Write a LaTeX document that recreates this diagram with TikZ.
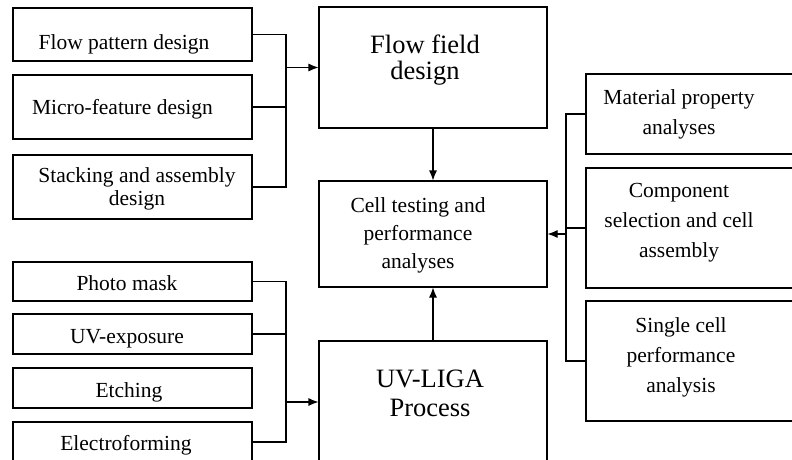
\documentclass[tikz,border=0pt]{standalone}
\usepackage{fontspec}
\setmainfont{Liberation Serif}
\usetikzlibrary{arrows.meta}
\begin{document}
\begin{tikzpicture}[x=1pt,y=-1pt,
  box/.style={draw=black,line width=1.1pt,rectangle,inner sep=0pt},
  txt/.style={anchor=base,align=center,inner sep=0pt,font=\fontsize{21.5}{23}\selectfont},
  txtm/.style={txt,font=\fontsize{21.5}{28}\selectfont},
  txtr/.style={txt,font=\fontsize{21.5}{30}\selectfont},
  big/.style={txt,font=\fontsize{26.5}{25}\selectfont},
  bigb/.style={txt,font=\fontsize{26.5}{29}\selectfont},
  conn/.style={line width=1.1pt},
  arr/.style={conn,-{Latex[length=10pt,width=8pt]}}]
\useasboundingbox (0,0) rectangle (792,460);
% boxes
\node[box,minimum width=239pt,minimum height=53pt] (fp) at (132.5,34.5) {};
\node[box,minimum width=239pt,minimum height=64pt] (mf) at (132.5,107) {};
\node[box,minimum width=239pt,minimum height=64pt] (sa) at (132.5,187) {};
\node[box,minimum width=239pt,minimum height=39pt] (pm) at (132.5,281.5) {};
\node[box,minimum width=239pt,minimum height=40pt] (ue) at (132.5,334) {};
\node[box,minimum width=239pt,minimum height=40pt] (et) at (132.5,388) {};
\node[box,minimum width=239pt,minimum height=40pt] (el) at (132.5,442) {};
\node[box,minimum width=228pt,minimum height=121pt] (ff) at (433,67.5) {};
\node[box,minimum width=228pt,minimum height=106pt] (ct) at (433,234) {};
\node[box,minimum width=228pt,minimum height=122pt] (uv) at (433,402) {};
\node[box,minimum width=210pt,minimum height=80pt] (mp) at (691,114) {};
\node[box,minimum width=210pt,minimum height=120pt] (cs) at (691,228) {};
\node[box,minimum width=210pt,minimum height=120pt] (sc) at (691,361) {};
% texts (anchor = baseline of last line)
\node[txt] (tfp) at (124,49) {Flow pattern design};
\node[txt] (tmf) at (122.5,114) {Micro-feature design};
\node[txt] (tsa) at (137,205) {Stacking and assembly\\design};
\node[txt] (tpm) at (127,290) {Photo mask};
\node[txt] (tue) at (127,343) {UV-exposure};
\node[txt] (tet) at (129,397) {Etching};
\node[txt] (tel) at (126,450) {Electroforming};
\node[big] (tff) at (425,79) {Flow field\\design};
\node[txtm] (tct) at (418,268) {Cell testing and\\performance\\analyses};
\node[bigb] (tuv) at (430,416) {UV-LIGA\\Process};
\node[txtr] (tmp) at (679,134) {Material property\\analyses};
\node[txtr] (tcs) at (679,257.5) {Component\\selection and cell\\assembly};
\node[txtr] (tsc) at (681,392) {Single cell\\performance\\analysis};
% junctions
\coordinate (j1) at (286,67.5);
\coordinate (j2) at (286,402);
\coordinate (j3) at (566,234);
% connectors
\draw[conn] (fp.east) -| (j1);
\draw[conn] (mf.east) -| (j1);
\draw[conn] (sa.east) -| (j1);
\draw[arr] (j1) -- (ff.west);
\draw[conn] (pm.east) -| (j2);
\draw[conn] (ue.east) -| (j2);
\draw[conn] (el.east) -| (j2);
\draw[arr] (j2) -- (uv.west);
\draw[conn] (mp.west) -| (j3);
\draw[conn] (cs.west) -| (j3);
\draw[conn] (sc.west) -| (j3);
\draw[arr] (j3) -- (ct.east);
\draw[arr] (ff.south) -- (ct.north);
\draw[arr] (uv.north) -- (ct.south);
\end{tikzpicture}
\end{document}
